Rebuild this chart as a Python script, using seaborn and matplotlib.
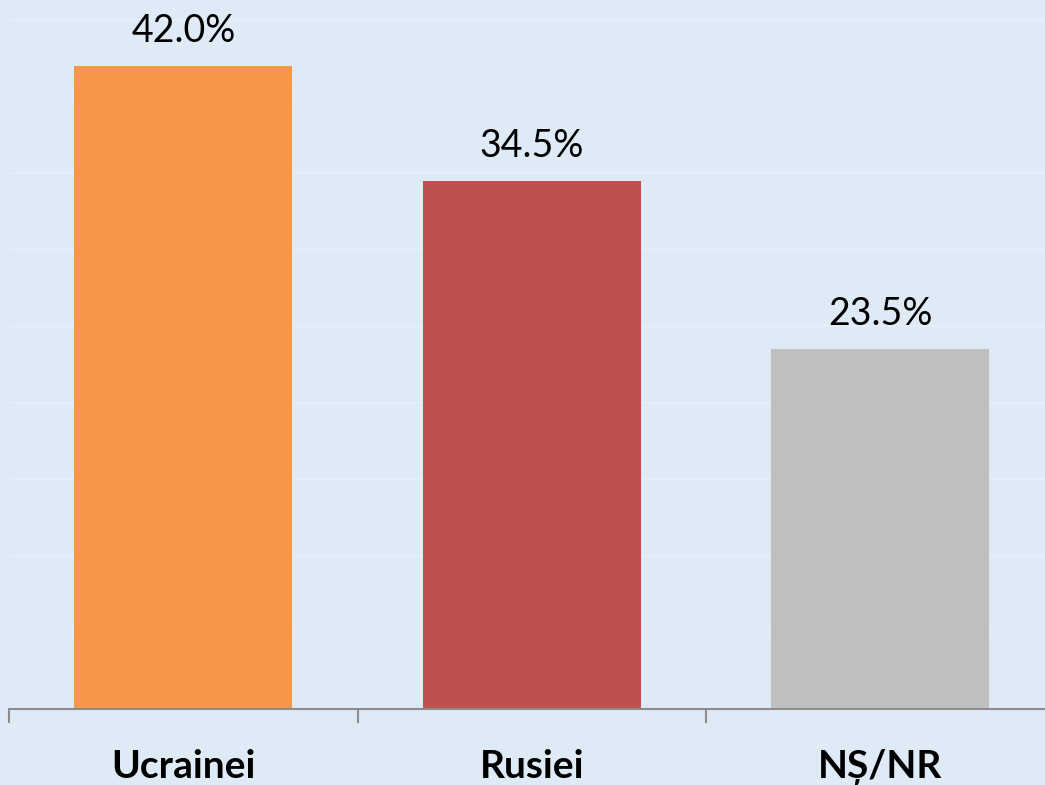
import pandas as pd
import matplotlib
matplotlib.use('Agg')
import matplotlib.pyplot as plt
import seaborn as sns

# date
categorii = ['Ucrainei', 'Rusiei', 'NȘ/NR']
procente = [42.0, 34.5, 23.5]
culori = ['#F79646', '#C0504D', '#BFBFBF']

df = pd.DataFrame({'Categorie': categorii, 'Procent': procente})

sns.set_style('white')
plt.rcParams['font.family'] = ['Lato', 'DejaVu Sans']

fig = plt.figure(figsize=(10.45, 7.85), dpi=100)
fig.patch.set_facecolor('#DEEAF6')
# axa depaseste marginea din dreapta (imaginea e decupata)
ax = fig.add_axes([9 / 1045, 76 / 785, 1045.5 / 1045, 709 / 785])
ax.set_facecolor('#DEEAF6')

sns.barplot(data=df, x='Categorie', y='Procent', hue='Categorie',
            palette=culori, width=0.625, saturation=1, legend=False,
            edgecolor='none', linewidth=0, ax=ax)

ax.set_xlim(-0.5, 2.5)
ax.set_ylim(0, 46.3)
ax.set_yticks(range(0, 50, 5))
ax.yaxis.grid(True, color='#E5EDF6', linewidth=1.5)
ax.set_axisbelow(True)
ax.tick_params(axis='y', left=False, labelleft=False)

for s in ['top', 'right', 'left']:
    ax.spines[s].set_visible(False)
ax.spines['bottom'].set_color('#8C8C8C')
ax.spines['bottom'].set_linewidth(1.5)

ax.set_xticks(range(len(categorii)))
ax.set_xticklabels(categorii, fontsize=28, fontweight='bold', color='black')
ax.set_xticks([-0.5, 0.5, 1.5, 2.5], minor=True)
ax.tick_params(axis='x', which='minor', bottom=True, length=10, width=1.5,
               color='#8C8C8C', direction='out')
ax.tick_params(axis='x', which='major', bottom=True, length=0, pad=29)
ax.set_xlabel('')
ax.set_ylabel('')

for i, v in enumerate(procente):
    ax.annotate(f'{v:.1f}%', (i, v), xytext=(0, 12), textcoords='offset points',
                ha='center', va='bottom', fontsize=27, color='black')

plt.savefig('out.png', dpi=100, facecolor=fig.get_facecolor())
